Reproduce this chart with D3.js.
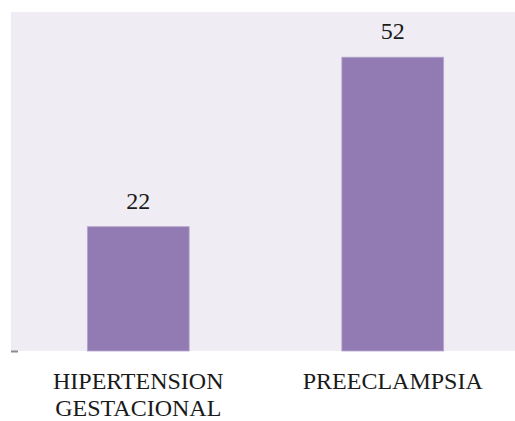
<!DOCTYPE html>
<html>
<head>
<meta charset="utf-8">
<script src="https://cdn.jsdelivr.net/npm/d3@7"></script>
<style>
  html, body { margin: 0; padding: 0; background: #ffffff; }
  svg { display: block; }
</style>
</head>
<body>
<svg id="chart" width="515" height="421"></svg>
<script>
// Category labels (line breaks split with "|")
const categories = ["HIPERTENSION|GESTACIONAL", "PREECLAMPSIA"];
const values = [22, 52];
const yDomain = [0, 60];

const plot = { left: 11, right: 520, top: 12, bottom: 351 };
const font = "'Liberation Serif', 'Times New Roman', serif";

const svg = d3.select("#chart");

const x = d3.scaleBand()
  .domain(categories)
  .range([plot.left, plot.right])
  .paddingInner(0.6)
  .paddingOuter(0.3);

const y = d3.scaleLinear()
  .domain(yDomain)
  .range([plot.bottom, plot.top]);

// Plot area background
svg.append("rect")
  .attr("x", plot.left)
  .attr("y", plot.top)
  .attr("width", plot.right - plot.left)
  .attr("height", plot.bottom - plot.top)
  .attr("fill", "#efedf3");

// Bars
svg.append("g").selectAll("rect")
  .data(categories)
  .join("rect")
  .attr("x", d => x(d))
  .attr("y", (d, i) => y(values[i]))
  .attr("width", x.bandwidth())
  .attr("height", (d, i) => y(0) - y(values[i]))
  .attr("fill", "#927ab2")
  .attr("stroke", "#b6a5cc")
  .attr("stroke-width", 0.8);

// Value labels
svg.append("g").selectAll("text")
  .data(categories)
  .join("text")
  .attr("x", d => x(d) + x.bandwidth() / 2)
  .attr("y", (d, i) => y(values[i]) - 18)
  .attr("text-anchor", "middle")
  .attr("font-family", font)
  .attr("font-size", 24)
  .attr("fill", "#1a1a1a")
  .text((d, i) => values[i]);

// Category axis labels
const xAxis = d3.axisBottom(x).tickSize(0).tickFormat("");
const gx = svg.append("g")
  .attr("transform", `translate(0,${plot.bottom})`)
  .call(xAxis);
gx.select(".domain").remove();

gx.selectAll(".tick").append("text")
  .attr("text-anchor", "middle")
  .attr("font-family", font)
  .attr("font-size", 24)
  .attr("fill", "#1a1a1a")
  .each(function(d) {
    const lines = d.split("|");
    d3.select(this).selectAll("tspan")
      .data(lines)
      .join("tspan")
      .attr("x", 0)
      .attr("y", (l, i) => 38 + i * 27)
      .text(l => l);
  });

// Small tick at the baseline on the left
const yAxis = d3.axisLeft(y).tickValues([0]).tickSize(7).tickFormat("");
const gy = svg.append("g")
  .attr("transform", `translate(${plot.left + 7},0)`)
  .call(yAxis);
gy.select(".domain").remove();
gy.selectAll(".tick line").attr("stroke", "#8c8c8c").attr("stroke-width", 2);
</script>
</body>
</html>
